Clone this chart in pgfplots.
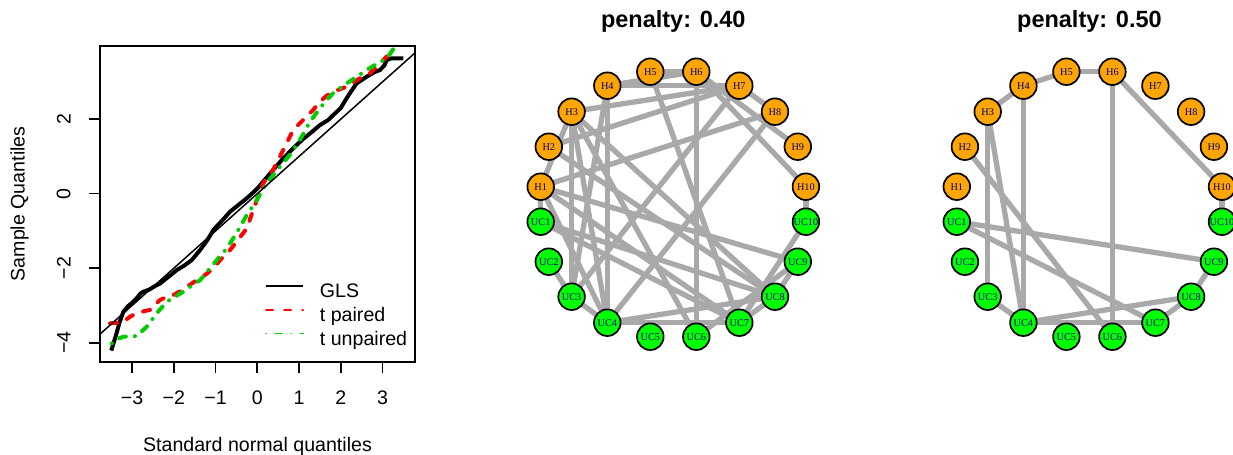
\documentclass[border=0pt]{standalone}
\usepackage{pgfplots}
\pgfplotsset{compat=1.18}
\usepackage{pgfplotstable}
\usepackage{fontspec}
\setmainfont{Liberation Sans}
\newfontfamily\nodefam{Liberation Serif}
\definecolor{nodeorange}{HTML}{FFA500}
\definecolor{nodegreen}{HTML}{00FF00}
\definecolor{edgegray}{HTML}{A9A9A9}
\definecolor{labelblue}{HTML}{00008B}
\definecolor{qqgreen}{HTML}{00CD00}
\newcommand\qqfont{\fontsize{19.6bp}{23bp}\selectfont}
\newcommand\titlefont{\fontsize{23.5bp}{28bp}\selectfont\bfseries}
\newcommand\nodefont{\nodefam\fontsize{10.3bp}{12bp}\selectfont}

% node positions (px, relative to circle centre, y up)
\newcommand\nodepos[3]{\expandafter\gdef\csname nx#1\endcsname{#2}\expandafter\gdef\csname ny#1\endcsname{#3}}
\nodepos{H1}{-132.6}{17.5}\nodepos{H2}{-124.5}{57.5}\nodepos{H3}{-101.7}{92.5}
\nodepos{H4}{-66.0}{118.5}\nodepos{H5}{-23.0}{132.5}\nodepos{H6}{23.0}{132.5}
\nodepos{H7}{66.0}{118.5}\nodepos{H8}{101.7}{92.5}\nodepos{H9}{124.5}{57.5}
\nodepos{H10}{132.6}{17.5}
\nodepos{UC1}{-132.6}{-17.5}\nodepos{UC2}{-124.5}{-57.5}\nodepos{UC3}{-101.7}{-92.5}
\nodepos{UC4}{-66.0}{-118.5}\nodepos{UC5}{-23.0}{-132.5}\nodepos{UC6}{23.0}{-132.5}
\nodepos{UC7}{66.0}{-118.5}\nodepos{UC8}{101.7}{-92.5}\nodepos{UC9}{124.5}{-57.5}
\nodepos{UC10}{132.6}{-17.5}
\newcommand\E[2]{\edef\tmpedge{\noexpand\addplot[edgeline] coordinates {(\csname nx#1\endcsname,\csname ny#1\endcsname) (\csname nx#2\endcsname,\csname ny#2\endcsname)};}\tmpedge}

\pgfplotstableread{
x y label
-132.6 17.5 H1
-124.5 57.5 H2
-101.7 92.5 H3
-66.0 118.5 H4
-23.0 132.5 H5
23.0 132.5 H6
66.0 118.5 H7
101.7 92.5 H8
124.5 57.5 H9
132.6 17.5 H10
}\nodesH
\pgfplotstableread{
x y label
-132.6 -17.5 UC1
-124.5 -57.5 UC2
-101.7 -92.5 UC3
-66.0 -118.5 UC4
-23.0 -132.5 UC5
23.0 -132.5 UC6
66.0 -118.5 UC7
101.7 -92.5 UC8
124.5 -57.5 UC9
132.6 -17.5 UC10
}\nodesUC

\pgfplotsset{
  edgeline/.style={color=edgegray, line width=5.3bp, forget plot},
  netaxis/.style={scale only axis, width=300bp, height=300bp,
    xmin=-150, xmax=150, ymin=-150, ymax=150, hide axis, clip=false,
    anchor=origin, title style={at={(axis cs:0,170.9)}, anchor=base, font=\titlefont}},
  netnodes/.style={only marks, mark=*, mark size=13.3bp, forget plot,
    nodes near coords, point meta=explicit symbolic, nodes near coords align={center},
    every node near coord/.style={anchor=center, font=\nodefont, text=labelblue, inner sep=0pt}},
}

\begin{document}
\begin{tikzpicture}
\useasboundingbox (0,0) rectangle (1233bp,455bp);

% ---------- QQ plot ----------
\begin{axis}[
  at={(100bp,93.3bp)}, anchor=south west, scale only axis,
  width=315bp, height=315.7bp,
  xmin=-3.77, xmax=3.78, ymin=-4.51, ymax=3.965,
  axis line style={line width=1.6bp},
  tick style={line width=1.6bp, black}, tick align=outside, major tick length=11bp,
  tick pos=left,
  xtick={-3,-2,-1,0,1,2,3}, xticklabels={−3,−2,−1,0,1,2,3},
  ytick={-4,-2,0,2}, yticklabels={−4,−2,0,2},
  ticklabel style={font=\qqfont, inner sep=0pt},
  xticklabel style={anchor=north},
  yticklabel style={rotate=90, anchor=south},
  xticklabel shift=17.7bp, yticklabel shift=18.3bp,
  xlabel={Standard normal quantiles}, ylabel={Sample Quantiles},
  every axis x label/.style={at={(axis description cs:0.5,0)}, anchor=base, yshift=-90bp, font=\qqfont},
  every axis y label/.style={at={(axis description cs:0,0.5)}, xshift=-75.5bp, rotate=90, anchor=base, font=\qqfont},
  legend style={at={(axis cs:0.184,-2.405)}, anchor=north west, draw=none, fill=none,
    inner sep=0pt, font=\qqfont, row sep=4.8bp, column sep=16bp,
    nodes={inner sep=0pt, text height=14bp, text depth=5bp}},
  legend cell align=left,
  legend image code/.code={\draw[#1, line width=1.8bp] (0bp,7bp) -- (37bp,7bp);},
]
\addplot[black, line width=4bp, line join=round] coordinates {
(-3.50,-4.21) (-3.40,-3.85) (-3.30,-3.45) (-3.21,-3.17) (-3.10,-3.02) (-3.01,-2.94)
(-2.90,-2.82) (-2.80,-2.68) (-2.73,-2.63) (-2.60,-2.58) (-2.45,-2.48) (-2.33,-2.41)
(-2.15,-2.25) (-1.93,-2.05) (-1.75,-1.93) (-1.57,-1.78) (-1.37,-1.51) (-1.20,-1.25)
(-1.05,-0.97) (-0.85,-0.73) (-0.65,-0.48) (-0.45,-0.30) (-0.25,-0.12) (-0.10,0.03)
(0.00,0.14) (0.20,0.40) (0.38,0.64) (0.60,0.92) (0.86,1.22) (1.10,1.47) (1.30,1.65)
(1.50,1.84) (1.70,1.98) (1.82,2.11) (2.00,2.30) (2.14,2.56) (2.25,2.75) (2.38,2.96)
(2.50,3.05) (2.62,3.14) (2.80,3.26) (2.94,3.32) (3.05,3.45) (3.10,3.59) (3.20,3.63)
(3.50,3.63)};
\addlegendentry{GLS}
\addplot[red, line width=4bp, line cap=round, dash pattern=on 7bp off 11bp] coordinates {
(-3.53,-3.48) (-3.30,-3.46) (-3.21,-3.44) (-3.05,-3.30) (-2.90,-3.22) (-2.70,-3.15)
(-2.57,-3.12) (-2.45,-2.98) (-2.33,-2.85) (-2.15,-2.76) (-2.01,-2.72) (-1.85,-2.62)
(-1.69,-2.50) (-1.45,-2.32) (-1.25,-2.18) (-1.05,-2.00) (-0.89,-1.78) (-0.65,-1.51)
(-0.45,-1.22) (-0.25,-0.93) (-0.10,-0.44) (0.02,-0.08) (0.14,0.28) (0.38,0.64)
(0.62,1.17) (0.86,1.71) (1.10,1.98) (1.34,2.25) (1.50,2.47) (1.65,2.62) (1.82,2.74)
(2.14,2.87) (2.46,3.10) (2.70,3.23) (2.94,3.50) (3.10,3.68) (3.15,3.70)};
\addlegendentry{t paired}
\addplot[qqgreen, line width=4bp, line cap=round, dash pattern=on 0.1bp off 9bp on 7bp off 9bp] coordinates {
(-3.49,-4.02) (-3.35,-3.90) (-3.21,-3.84) (-3.00,-3.83) (-2.89,-3.82) (-2.65,-3.57)
(-2.41,-3.21) (-2.17,-2.90) (-1.95,-2.75) (-1.77,-2.63) (-1.55,-2.45) (-1.37,-2.32)
(-1.15,-2.02) (-0.97,-1.78) (-0.73,-1.47) (-0.55,-1.15) (-0.41,-0.89) (-0.25,-0.57)
(-0.10,-0.32) (-0.01,-0.17) (0.10,0.05) (0.22,0.28) (0.54,0.72) (0.78,1.04)
(1.02,1.44) (1.26,1.93) (1.50,2.29) (1.65,2.50) (1.82,2.70) (2.14,2.96) (2.40,3.15)
(2.62,3.32) (2.94,3.54) (3.10,3.62) (3.30,3.95)};
\addlegendentry{t unpaired}
\addplot[black, line width=1.5bp, forget plot] coordinates {(-5,-5) (5,5)};
\end{axis}

% ---------- network, penalty 0.40 ----------
\begin{axis}[netaxis, at={(673.3bp,250.8bp)}, title={penalty: 0.40}]
\E{H5}{H6}\E{H4}{H6}\E{H4}{H7}\E{H3}{H7}\E{H1}{H8}\E{H2}{H7}
\E{H6}{H10}\E{H6}{H9}\E{H7}{H8}
\E{H6}{UC6}\E{H4}{UC4}\E{H3}{UC3}\E{H3}{UC4}\E{H4}{UC3}
\E{H3}{UC8}\E{H3}{UC6}\E{H2}{UC8}\E{H1}{UC9}\E{H1}{UC7}\E{H1}{UC1}\E{H1}{H3}
\E{H5}{UC7}\E{H7}{UC3}\E{H8}{UC4}\E{H1}{UC4}
\E{UC1}{UC8}\E{UC1}{UC7}\E{UC2}{UC3}\E{UC3}{UC4}\E{UC4}{UC8}\E{UC4}{UC7}
\E{UC6}{UC9}\E{UC7}{UC10}\E{UC8}{UC9}\E{UC7}{UC8}\E{H10}{UC10}
\addplot[netnodes, mark options={draw=black, fill=nodeorange, line width=1.7bp}] table[meta=label] {\nodesH};
\addplot[netnodes, mark options={draw=black, fill=nodegreen, line width=1.7bp}] table[meta=label] {\nodesUC};
\end{axis}

% ---------- network, penalty 0.50 ----------
\begin{axis}[netaxis, at={(1089.4bp,250.8bp)}, title={penalty: 0.50}]
\E{H3}{H4}\E{H4}{H5}\E{H5}{H6}\E{H6}{H10}\E{H6}{UC6}\E{H4}{UC4}
\E{H3}{UC3}\E{H3}{UC4}\E{H2}{UC6}\E{UC1}{UC9}\E{UC1}{UC7}
\E{UC3}{UC4}\E{UC4}{UC8}\E{UC4}{UC7}\E{UC7}{UC8}\E{UC8}{UC9}\E{H10}{UC10}
\addplot[netnodes, mark options={draw=black, fill=nodeorange, line width=1.7bp}] table[meta=label] {\nodesH};
\addplot[netnodes, mark options={draw=black, fill=nodegreen, line width=1.7bp}] table[meta=label] {\nodesUC};
\end{axis}
\end{tikzpicture}
\end{document}
